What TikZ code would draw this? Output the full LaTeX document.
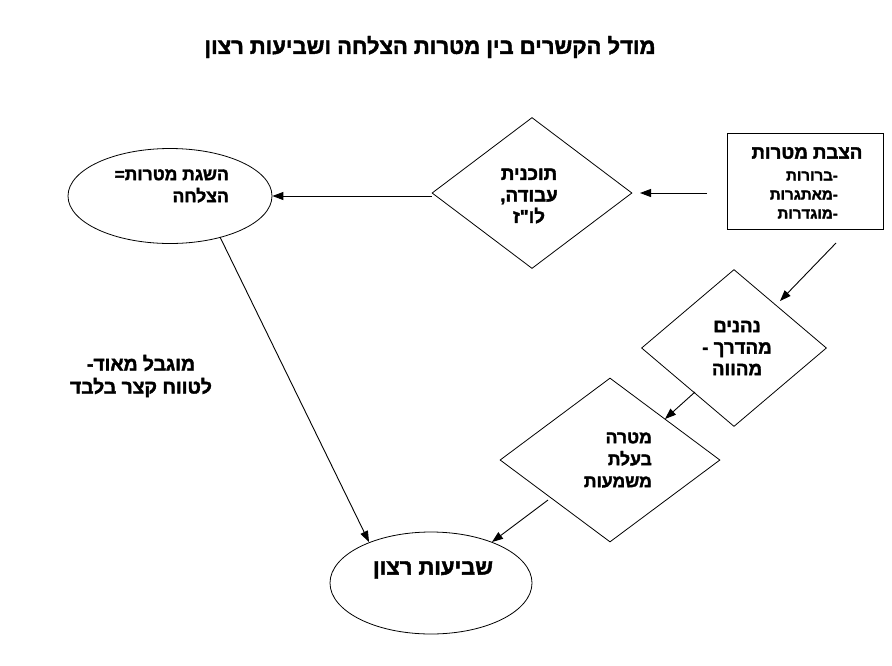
\documentclass[tikz,border=0pt]{standalone}
\usepackage{fontspec}
\setmainfont{Liberation Sans}
\newfontfamily\hebfont[Script=Hebrew,FakeBold=2]{Liberation Sans}
\TeXXeTstate=1
\usetikzlibrary{shapes.geometric,arrows.meta}
\newcommand\heb[1]{\beginR #1\endR}
\begin{document}
\begin{tikzpicture}[x=1pt,y=-1pt,
  outl/.style={draw, line width=0.8pt, inner sep=0pt},
  box/.style={outl, rectangle},
  dia/.style={outl, diamond},
  ell/.style={outl, ellipse},
  arr/.style={line width=0.9pt, -{Triangle[length=11pt,width=8pt]}},
  txt/.style={inner sep=0pt, font=\hebfont\bfseries\fontsize{18.7}{21.5}\selectfont},
]
\useasboundingbox (0,0) rectangle (892,665);
\fill[white] (0,0) rectangle (892,665);

% shapes
\node[box, minimum width=156pt, minimum height=96pt] (rect) at (805,181) {};
\node[dia, minimum width=200pt, minimum height=151pt] (d1) at (532,193) {};
\node[ell, minimum width=204pt, minimum height=95pt] (e1) at (170,196) {};
\node[dia, minimum width=185pt, minimum height=157pt] (d2) at (734,348) {};
\node[dia, minimum width=220pt, minimum height=164pt] (d3) at (610,460) {};
\node[ell, minimum width=202pt, minimum height=102pt] (e2) at (431,583) {};

% texts
\node[txt, font=\hebfont\bfseries\fontsize{22}{26}\selectfont] (title) at (430,47)
  {\heb{מודל הקשרים בין מטרות הצלחה ושביעות רצון}};
\node[txt] (rtitle) at (807,153) {\heb{הצבת מטרות}};
\node[txt, anchor=east, align=right, font=\hebfont\bfseries\fontsize{15}{19}\selectfont] (rlist) at (838,195)
  {\heb{-ברורות}\\\heb{-מאתגרות}\\\heb{-מוגדרות}};
\node[txt, align=center] (d1t) at (529,196)
  {\heb{תוכנית}\\\heb{עבודה,}\\\heb{לו"ז}};
\node[txt, anchor=east, align=right, font=\hebfont\bfseries\fontsize{17.5}{22}\selectfont] (e1t) at (229,186)
  {\heb{השגת מטרות=}\\\heb{הצלחה}};
\node[txt, align=center] (d2t) at (737,348)
  {\heb{נהנים}\\\heb{מהדרך -}\\\heb{מהווה}};
\node[txt, anchor=east, align=right, font=\hebfont\bfseries\fontsize{17.5}{22}\selectfont] (d3t) at (652,460)
  {\heb{מטרה}\\\heb{בעלת}\\\heb{משמעות}};
\node[txt, align=center, font=\hebfont\bfseries\fontsize{19.3}{23}\selectfont] (free) at (141,376)
  {\heb{מוגבל מאוד-}\\\heb{לטווח קצר בלבד}};
\node[txt, font=\hebfont\bfseries\fontsize{22}{26}\selectfont] (e2t) at (433,570) {\heb{שביעות רצון}};

% connector ends
\coordinate (a1s) at (707,193);
\coordinate (a1e) at (640,193);
\coordinate (a2s) at (836,243);
\coordinate (a2e) at (780,301);
\coordinate (a3s) at (695,392);
\coordinate (a3e) at (665,419);
\coordinate (a4s) at (548,500);
\coordinate (a4e) at (492,542);
\coordinate (a5s) at (220,237);
\coordinate (a5e) at (369,542);

% connectors
\draw[arr] (a1s) -- (a1e);
\draw[arr] (d1.west |- e1.east) -- (e1.east);
\draw[arr] (a2s) -- (a2e);
\draw[arr] (a3s) -- (a3e);
\draw[arr] (a4s) -- (a4e);
\draw[arr] (a5s) -- (a5e);
\end{tikzpicture}
\end{document}
